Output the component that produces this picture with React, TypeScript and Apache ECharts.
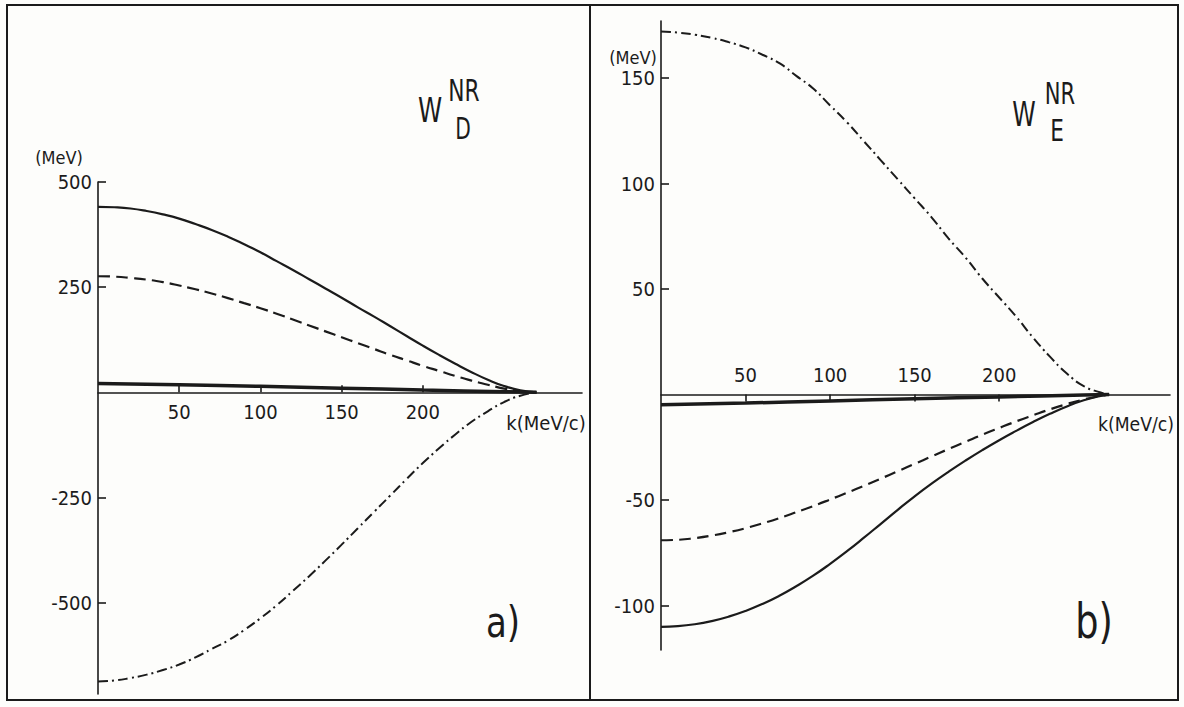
import React, { useEffect, useRef } from "react";
import * as echarts from "echarts";

// ---------- data ----------
// panel a) W_D^NR
const kA = [0, 10, 20, 30, 40, 50, 60, 70, 80, 90, 100, 110, 120, 130, 140, 150, 160, 170, 180, 190, 200, 210, 220, 230, 240, 250, 260, 270];
const solidA = [441, 440, 437, 431, 423, 413, 400, 386, 370, 352, 333, 312, 291, 269, 247, 225, 202, 180, 157, 134, 111, 89, 68, 48, 30, 15, 5, 0];
const dashedA = [276, 275, 272, 268, 262, 254, 245, 235, 224, 212, 200, 187, 173, 159, 145, 131, 117, 103, 89, 76, 63, 51, 39, 28, 18, 9, 3, 0];
const dashDotA = [-687, -685, -679, -671, -660, -647, -630, -610, -590, -565, -537, -506, -472, -437, -400, -362, -323, -284, -245, -206, -168, -133, -100, -70, -45, -23, -8, 0];
const thickKA = [0, 50, 100, 150, 200, 250, 270];
const thickA = [21, 18, 14.5, 10, 5.5, 1.5, 0];

// panel b) W_E^NR
const kB = [0, 10, 20, 30, 40, 50, 60, 70, 80, 90, 100, 110, 120, 130, 140, 150, 160, 170, 180, 190, 200, 210, 220, 230, 240, 250, 260, 265];
const dashDotB = [172, 171.5, 170.5, 169, 167, 164.5, 161, 157, 151, 145, 137, 129, 120, 111, 102, 93, 84, 74, 65, 55, 46, 37, 27, 18, 10, 4, 1, 0];
const solidB = [-110, -109.7, -108.8, -107.3, -105.2, -102.5, -99.2, -95.3, -90.8, -85.8, -80.2, -74.2, -67.8, -61.2, -54.6, -48.2, -42.2, -36.6, -31.3, -26.3, -21.6, -17.2, -13, -9.1, -5.6, -2.7, -0.6, 0];
const dashedB = [-69, -68.8, -68, -66.8, -65.2, -63.3, -61, -58.5, -55.7, -52.8, -49.7, -46.5, -43.2, -39.8, -36.3, -32.8, -29.3, -25.8, -22.4, -19, -15.8, -12.7, -9.8, -7, -4.5, -2.3, -0.6, 0];
const thickKB = [0, 50, 100, 150, 200, 250, 265];
const thickB = [-4.8, -4, -3, -2, -1.1, -0.2, 0];

// tick labels
const xTicks = [50, 100, 150, 200];
const yTicksA = [-500, -250, 250, 500];
const yTicksB = [-100, -50, 50, 100, 150];

const INK = "#1b1b1b";
const FONT = "'DejaVu Sans Condensed', 'Liberation Sans Narrow', 'DejaVu Sans', sans-serif";

// panel geometry (pixels)
const A = { left: 98, top: 182, width: 484, height: 512, xMax: 298, yMin: -717, yMax: 500 };
const B = { left: 661, top: 21, width: 509, height: 629, xMax: 301, yMin: -121, yMax: 177 };
const zeroA = A.top + (A.yMax / (A.yMax - A.yMin)) * A.height;
const zeroB = B.top + (B.yMax / (B.yMax - B.yMin)) * B.height;

const pairs = (ks: number[], vs: number[]) => ks.map((k, i) => [k, vs[i]]);

function line(name: string, xi: number, data: number[][], type: any, width: number) {
  return {
    name,
    type: "line",
    xAxisIndex: xi,
    yAxisIndex: xi,
    data,
    smooth: true,
    showSymbol: false,
    symbol: "none",
    lineStyle: { color: INK, width, type },
    z: 3,
  };
}

function txt(text: string, x: number, y: number, size: number, sx = 1, align = "center") {
  return {
    type: "text",
    x,
    y,
    scaleX: sx,
    z: 10,
    style: {
      text,
      fill: INK,
      fontSize: size,
      fontFamily: FONT,
      textAlign: align,
      textVerticalAlign: "middle",
    },
  };
}

export default function App() {
  const ref = useRef<HTMLDivElement>(null);
  useEffect(() => {
    if (!ref.current) return;
    const chart = echarts.init(ref.current, null, { renderer: "svg" });
    const axisLineStyle = { color: INK, width: 1.6 };
    const tickLabel = { color: INK, fontSize: 20, fontFamily: FONT };
    const hiddenX = (gi: number, max: number) => ({
      gridIndex: gi,
      type: "value",
      min: 0,
      max,
      show: false,
      axisLine: { show: false, onZero: false },
      axisTick: { show: false },
      axisLabel: { show: false },
      splitLine: { show: false },
    });
    const shownX = (gi: number, max: number, position: string) => ({
      gridIndex: gi,
      type: "value",
      position,
      min: 0,
      max,
      axisLine: { onZero: false, lineStyle: axisLineStyle },
      axisTick: { customValues: xTicks, inside: true, length: 7, lineStyle: axisLineStyle },
      axisLabel: { customValues: xTicks, margin: 10, ...tickLabel },
      splitLine: { show: false },
    });
    const hiddenY = (gi: number) => ({
      gridIndex: gi,
      type: "value",
      min: 0,
      max: 1,
      show: false,
      axisLine: { show: false },
      axisTick: { show: false },
      axisLabel: { show: false },
      splitLine: { show: false },
    });
    chart.setOption({
      animation: false,
      backgroundColor: "#fdfdfb",
      grid: [
        { left: A.left, top: A.top, width: A.width, height: A.height },
        { left: B.left, top: B.top, width: B.width, height: B.height },
        // axis-holder grids whose edge sits on the zero line
        { left: A.left, top: zeroA - 50, width: A.width, height: 50 },
        { left: B.left, top: zeroB, width: B.width, height: 50 },
      ],
      xAxis: [
        hiddenX(0, A.xMax),
        hiddenX(1, B.xMax),
        shownX(2, A.xMax, "bottom"),
        shownX(3, B.xMax, "top"),
      ],
      yAxis: [
        {
          gridIndex: 0,
          type: "value",
          min: A.yMin,
          max: A.yMax,
          axisLine: { show: true, onZero: false, lineStyle: axisLineStyle },
          axisTick: { customValues: yTicksA, inside: true, length: 8, lineStyle: axisLineStyle },
          axisLabel: { customValues: yTicksA, margin: 6, ...tickLabel },
          splitLine: { show: false },
        },
        {
          gridIndex: 1,
          type: "value",
          min: B.yMin,
          max: B.yMax,
          axisLine: { show: true, onZero: false, lineStyle: axisLineStyle },
          axisTick: { customValues: yTicksB, inside: true, length: 8, lineStyle: axisLineStyle },
          axisLabel: { customValues: yTicksB, margin: 6, ...tickLabel },
          splitLine: { show: false },
        },
        hiddenY(2),
        hiddenY(3),
      ],
      series: [
        line("a solid", 0, pairs(kA, solidA), "solid", 2.2),
        line("a dashed", 0, pairs(kA, dashedA), [12, 6], 2.2),
        line("a dash-dot", 0, pairs(kA, dashDotA), [10, 4, 2, 4], 2),
        line("a thick", 0, pairs(thickKA, thickA), "solid", 3.5),
        line("b dash-dot", 1, pairs(kB, dashDotB), [10, 4, 2, 4], 2),
        line("b solid", 1, pairs(kB, solidB), "solid", 2.2),
        line("b dashed", 1, pairs(kB, dashedB), [12, 6], 2.2),
        line("b thick", 1, pairs(thickKB, thickB), "solid", 3.5),
      ],
      graphic: [
        {
          type: "rect",
          shape: { x: 7, y: 5, width: 1171, height: 695 },
          style: { fill: "none", stroke: INK, lineWidth: 2 },
          z: 1,
        },
        {
          type: "line",
          shape: { x1: 590, y1: 5, x2: 590, y2: 700 },
          style: { stroke: INK, lineWidth: 2 },
          z: 1,
        },
        txt("(MeV)", 59, 157, 18, 1),
        txt("(MeV)", 633, 57, 18, 1),
        txt("k(MeV/c)", 546, 423, 20, 1),
        txt("k(MeV/c)", 1136, 424, 20, 0.96),
        txt("W", 430, 110, 34, 0.8),
        txt("NR", 464, 90, 31, 0.78),
        txt("D", 463, 128, 30, 0.75),
        txt("W", 1024, 114, 33, 0.8),
        txt("NR", 1060, 93, 30, 0.78),
        txt("E", 1057, 131, 30, 0.8),
        txt("a)", 503, 622, 42, 0.9),
        txt("b)", 1094, 622, 48, 0.85),
      ],
    });
    return () => chart.dispose();
  }, []);
  return (
    <div
      ref={ref}
      style={{ position: "fixed", left: 0, top: 0, width: 1184, height: 707 }}
    />
  );
}
